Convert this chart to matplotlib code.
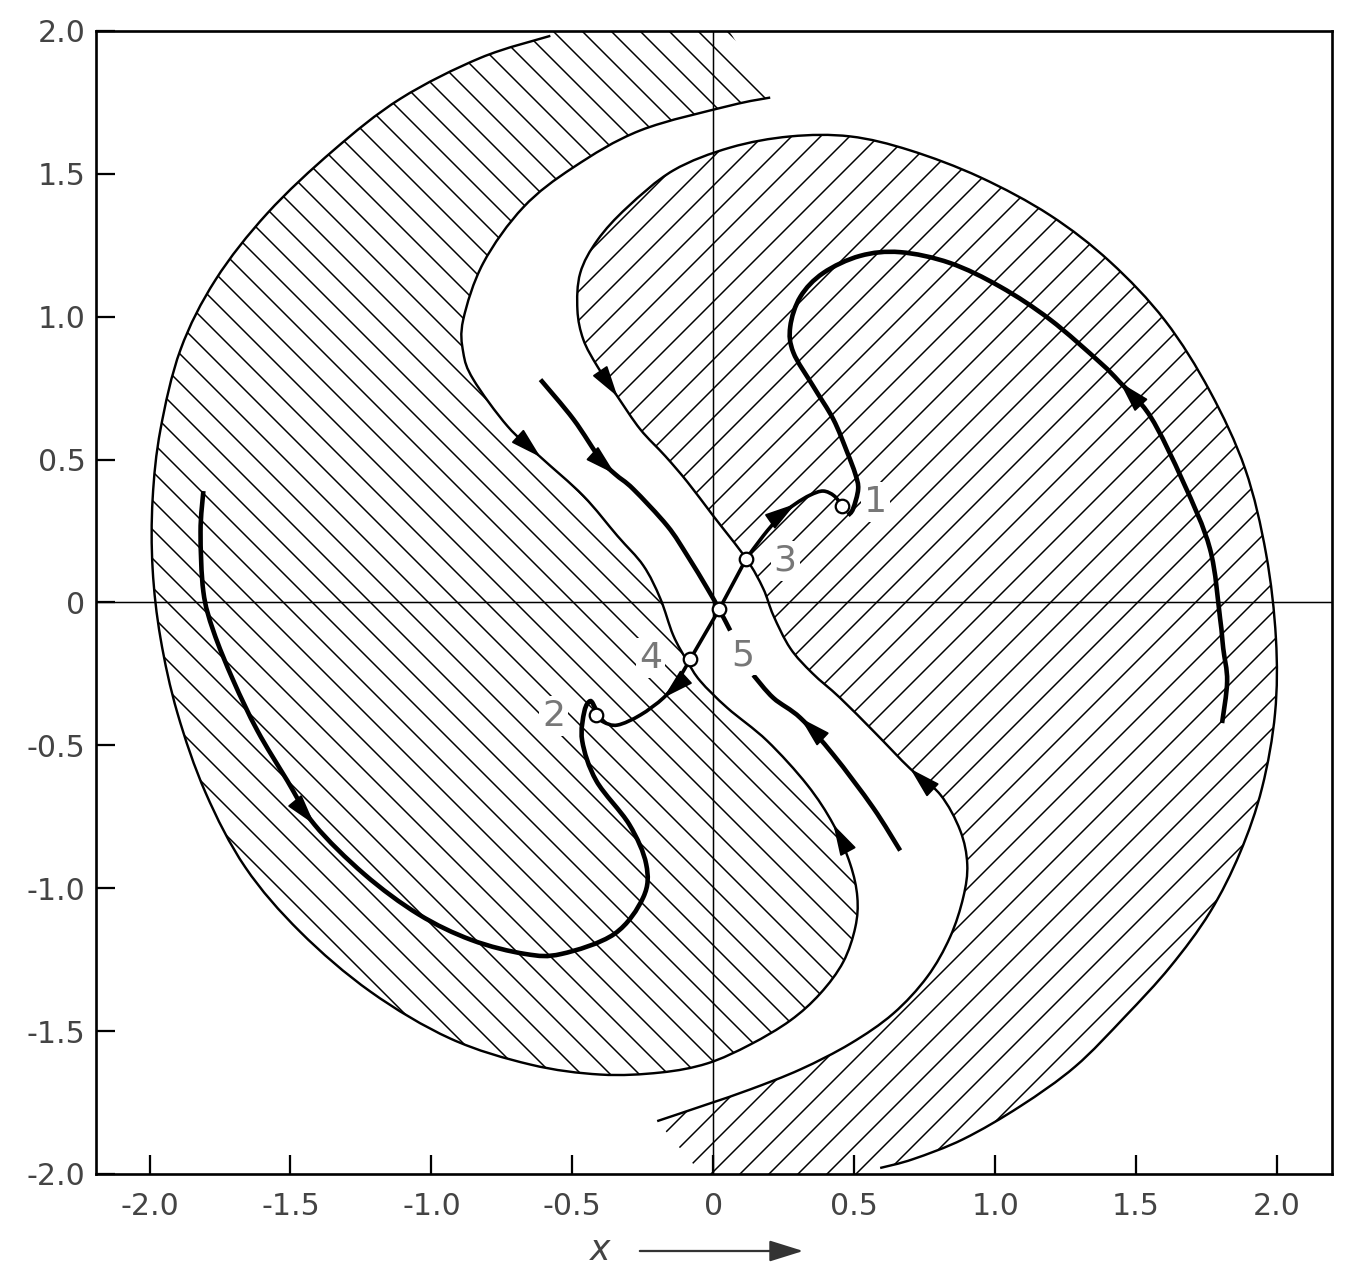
import numpy as np
import matplotlib
matplotlib.use("Agg")
import matplotlib.pyplot as plt
from matplotlib.path import Path
from matplotlib.patches import PathPatch

# ---- data (x, y) ----
# left shaded region: outer arc -> lower nose -> inner edge up to the top tip
LEFT_X = [-0.578, -0.826, -1.110, -1.348, -1.582, -1.766, -1.890, -1.961, -1.989, -1.989,
          -1.961, -1.901, -1.801, -1.660, -1.465, -1.216, -0.933, -0.649, -0.401, -0.188,
          -0.021, 0.131, 0.273, 0.379, 0.461, 0.504, 0.511, 0.486, 0.426, 0.333,
          0.191, 0.050, -0.046, -0.092, -0.142, -0.188, -0.248, -0.340, -0.461, -0.613,
          -0.730, -0.851, -0.887, -0.887, -0.816, -0.674, -0.496, -0.259, 0.060, 0.202]
LEFT_Y = [1.983, 1.906, 1.763, 1.582, 1.362, 1.129, 0.885, 0.606, 0.362, 0.118,
          -0.125, -0.387, -0.666, -0.927, -1.153, -1.362, -1.526, -1.617, -1.652, -1.645,
          -1.613, -1.547, -1.463, -1.369, -1.258, -1.136, -1.031, -0.916, -0.777, -0.638,
          -0.484, -0.369, -0.275, -0.206, -0.115, 0.014, 0.129, 0.233, 0.373, 0.509,
          0.617, 0.780, 0.875, 0.990, 1.188, 1.383, 1.523, 1.652, 1.739, 1.767]
LEFT_CUT_X = [0.020, -0.600]
LEFT_CUT_Y = [2.06, 2.06]

# right shaded region: lower tip -> inner edge up -> upper nose -> outer arc
RIGHT_X = [-0.199, -0.021, 0.131, 0.309, 0.486, 0.638, 0.759, 0.840, 0.887, 0.901,
           0.876, 0.805, 0.699, 0.574, 0.450, 0.351, 0.273, 0.213, 0.177, 0.117,
           0.000, -0.092, -0.170, -0.259, -0.340, -0.411, -0.461, -0.482, -0.472, -0.411,
           -0.305, -0.142, 0.060, 0.273, 0.486, 0.699, 0.947, 1.195, 1.408, 1.603,
           1.762, 1.887, 1.961, 1.996, 1.993, 1.947, 1.869, 1.762, 1.621, 1.461,
           1.284, 1.089, 0.887, 0.709, 0.592]
RIGHT_Y = [-1.815, -1.756, -1.704, -1.634, -1.544, -1.439, -1.310, -1.171, -1.031, -0.916,
           -0.798, -0.672, -0.582, -0.456, -0.334, -0.247, -0.160, -0.045, 0.049, 0.153,
           0.303, 0.422, 0.512, 0.606, 0.721, 0.826, 0.920, 1.024, 1.153, 1.268,
           1.383, 1.512, 1.592, 1.631, 1.631, 1.582, 1.488, 1.355, 1.192, 0.986,
           0.739, 0.467, 0.171, -0.125, -0.387, -0.648, -0.875, -1.084, -1.275, -1.449,
           -1.624, -1.763, -1.878, -1.948, -1.979]
RIGHT_CUT_X = [0.56, 0.01]
RIGHT_CUT_Y = [-2.06, -2.06]

# trajectories
TRAJ_R_X = [1.805, 1.823, 1.809, 1.798, 1.762, 1.667, 1.550, 1.443, 1.372, 1.195, 1.018, 0.840,
            0.663, 0.521, 0.390, 0.309, 0.273, 0.284, 0.355, 0.426, 0.475, 0.504, 0.514, 0.496, 0.478]
TRAJ_R_Y = [-0.422, -0.275, -0.160, -0.056, 0.188, 0.422, 0.652, 0.770, 0.840, 0.990, 1.105, 1.188,
            1.226, 1.213, 1.153, 1.070, 0.965, 0.875, 0.756, 0.641, 0.526, 0.449, 0.397, 0.328, 0.305]
TRAJ_L_X = [-1.809, -1.819, -1.809, -1.773, -1.702, -1.617, -1.511, -1.415, -1.238, -1.046, -0.858,
            -0.667, -0.539, -0.351, -0.248, -0.238, -0.298, -0.415, -0.465, -0.457, -0.436, -0.418]
TRAJ_L_Y = [0.390, 0.247, 0.038, -0.101, -0.275, -0.449, -0.624, -0.777, -0.951, -1.091, -1.181,
            -1.230, -1.230, -1.160, -1.031, -0.916, -0.777, -0.624, -0.484, -0.380, -0.345, -0.372]
CHAN_TL_X = [-0.613, -0.496, -0.401, -0.348, -0.284, -0.163, -0.092, -0.021, 0.021, 0.060]
CHAN_TL_Y = [0.780, 0.641, 0.502, 0.449, 0.397, 0.268, 0.164, 0.049, -0.024, -0.098]
CHAN_BR_X = [0.663, 0.567, 0.426, 0.309, 0.213, 0.142]
CHAN_BR_Y = [-0.868, -0.718, -0.533, -0.404, -0.334, -0.254]
SEP_X = [0.117, 0.021, -0.082]
SEP_Y = [0.153, -0.024, -0.199]
LINK31_X = [0.117, 0.177, 0.238, 0.291, 0.344, 0.390, 0.429, 0.457]
LINK31_Y = [0.153, 0.233, 0.303, 0.345, 0.376, 0.390, 0.373, 0.338]
LINK42_X = [-0.082, -0.128, -0.177, -0.259, -0.340, -0.390, -0.415]
LINK42_Y = [-0.199, -0.275, -0.334, -0.394, -0.429, -0.418, -0.394]

# singular points
PT_X = [0.457, -0.415, 0.117, -0.082, 0.021]
PT_Y = [0.338, -0.394, 0.153, -0.199, -0.024]
PT_NAMES = ["1", "2", "3", "4", "5"]
NAME_X = [0.574, -0.567, 0.255, -0.223, 0.106]
NAME_Y = [0.352, -0.397, 0.146, -0.195, -0.185]

TICKS = [-2.0, -1.5, -1.0, -0.5, 0.0, 0.5, 1.0, 1.5, 2.0]
TICK_LABELS = ["-2.0", "-1.5", "-1.0", "-0.5", "0", "0.5", "1.0", "1.5", "2.0"]

DPI = 174  # hatch tile = 1 inch, so this also sets the hatch spacing
plt.rcParams["hatch.linewidth"] = 0.62
plt.rcParams["font.family"] = ["DejaVu Sans"]

fig = plt.figure(figsize=(1367 / DPI, 1270 / DPI), dpi=DPI)
ax = fig.add_axes([0.0702, 0.0756, 0.9042, 0.900])


# smooth curve through the read points (catmull-rom -> cubic bezier)
def bezier(xs, ys):
    p = np.column_stack([xs, ys])
    e = np.vstack([p[0], p, p[-1]])
    verts = [tuple(p[0])]
    codes = [Path.MOVETO]
    for i in range(1, len(p)):
        p0, p1, p2, p3 = e[i - 1], e[i], e[i + 1], e[i + 2]
        c1 = p1 + (p2 - p0) / 6.0
        c2 = p2 - (p3 - p1) / 6.0
        verts += [tuple(c1), tuple(c2), tuple(p2)]
        codes += [Path.CURVE4] * 3
    return verts, codes


def region(xs, ys, cx, cy, hatch):
    v, c = bezier(xs, ys)
    for x, y in zip(cx, cy):
        v.append((x, y))
        c.append(Path.LINETO)
    v.append(v[0])
    c.append(Path.CLOSEPOLY)
    ax.add_patch(PathPatch(Path(v, c), facecolor="none", edgecolor="black",
                           lw=0, hatch=hatch, zorder=1))


def curve(xs, ys, lw):
    v, c = bezier(xs, ys)
    ax.add_patch(PathPatch(Path(v, c), facecolor="none", edgecolor="black",
                           lw=lw, zorder=3, capstyle="butt"))


def head(xs, ys, i, sign=1):
    i0 = max(i - 1, 0)
    i1 = min(i + 1, len(xs) - 1)
    d = np.array([xs[i1] - xs[i0], ys[i1] - ys[i0]]) * sign
    d = d / np.hypot(d[0], d[1])
    tip = np.array([xs[i], ys[i]])
    ax.annotate("", xy=tip, xytext=tip - 0.07 * d,
                arrowprops=dict(arrowstyle="-|>,head_length=0.7,head_width=0.2",
                                mutation_scale=16, color="black", lw=0.75,
                                shrinkA=0, shrinkB=0), zorder=4)


# hatched regions
region(LEFT_X, LEFT_Y, LEFT_CUT_X, LEFT_CUT_Y, "\\\\")
region(RIGHT_X, RIGHT_Y, RIGHT_CUT_X, RIGHT_CUT_Y, "//")

# axes lines through origin
ax.axhline(0, color="black", lw=0.62, zorder=2)
ax.axvline(0, color="black", lw=0.62, zorder=2)

# region edges (separatrices)
curve(LEFT_X, LEFT_Y, 1.0)
curve(RIGHT_X, RIGHT_Y, 1.0)
head(LEFT_X, LEFT_Y, 39, -1)
head(LEFT_X, LEFT_Y, 28, 1)
head(RIGHT_X, RIGHT_Y, 24, -1)
head(RIGHT_X, RIGHT_Y, 12, 1)

# thick trajectories
curve(TRAJ_R_X, TRAJ_R_Y, 1.9)
curve(TRAJ_L_X, TRAJ_L_Y, 1.9)
curve(CHAN_TL_X, CHAN_TL_Y, 1.9)
curve(CHAN_BR_X, CHAN_BR_Y, 1.9)
curve(LINK31_X, LINK31_Y, 1.5)
curve(LINK42_X, LINK42_Y, 1.5)
ax.plot(SEP_X, SEP_Y, color="black", lw=1.5, zorder=3)
head(TRAJ_R_X, TRAJ_R_Y, 7)
head(TRAJ_L_X, TRAJ_L_Y, 7)
head(CHAN_TL_X, CHAN_TL_Y, 3)
head(CHAN_BR_X, CHAN_BR_Y, 3)
head(LINK31_X, LINK31_Y, 3)
head(LINK42_X, LINK42_Y, 2)

# singular points
ax.plot(PT_X, PT_Y, "o", ms=5.6, mfc="white", mec="black", mew=0.93, zorder=5)
for n, x, y in zip(PT_NAMES, NAME_X, NAME_Y):
    ax.text(x, y, n, fontsize=15, color="#777777", ha="center", va="center", zorder=6,
            bbox=dict(facecolor="white", edgecolor="none", pad=1.2))

ax.set_xlim(-2.19, 2.195)
ax.set_ylim(-2.0, 2.0)
ax.set_xticks(TICKS, TICK_LABELS)
ax.set_yticks(TICKS, TICK_LABELS)
ax.tick_params(direction="in", length=8, width=0.93, labelsize=12.4, labelcolor="#444444")
ax.tick_params(axis="x", pad=7.5)
ax.tick_params(axis="y", pad=4.3)
for s in ax.spines.values():
    s.set_linewidth(1.1)

# x label with arrow underneath the axis
fig.text(600 / 1367, 1 - 1250 / 1270, "x", fontsize=14.3, style="italic",
         color="#444444", ha="center", va="center")
ax.annotate("", xy=(808 / 1367, 1 - 1251 / 1270), xytext=(635 / 1367, 1 - 1251 / 1270),
            xycoords="figure fraction", textcoords="figure fraction", annotation_clip=False,
            arrowprops=dict(arrowstyle="-|>,head_length=0.8,head_width=0.25",
                            mutation_scale=15, lw=0.93, color="#333333"))

fig.savefig("out.png", dpi=DPI)
